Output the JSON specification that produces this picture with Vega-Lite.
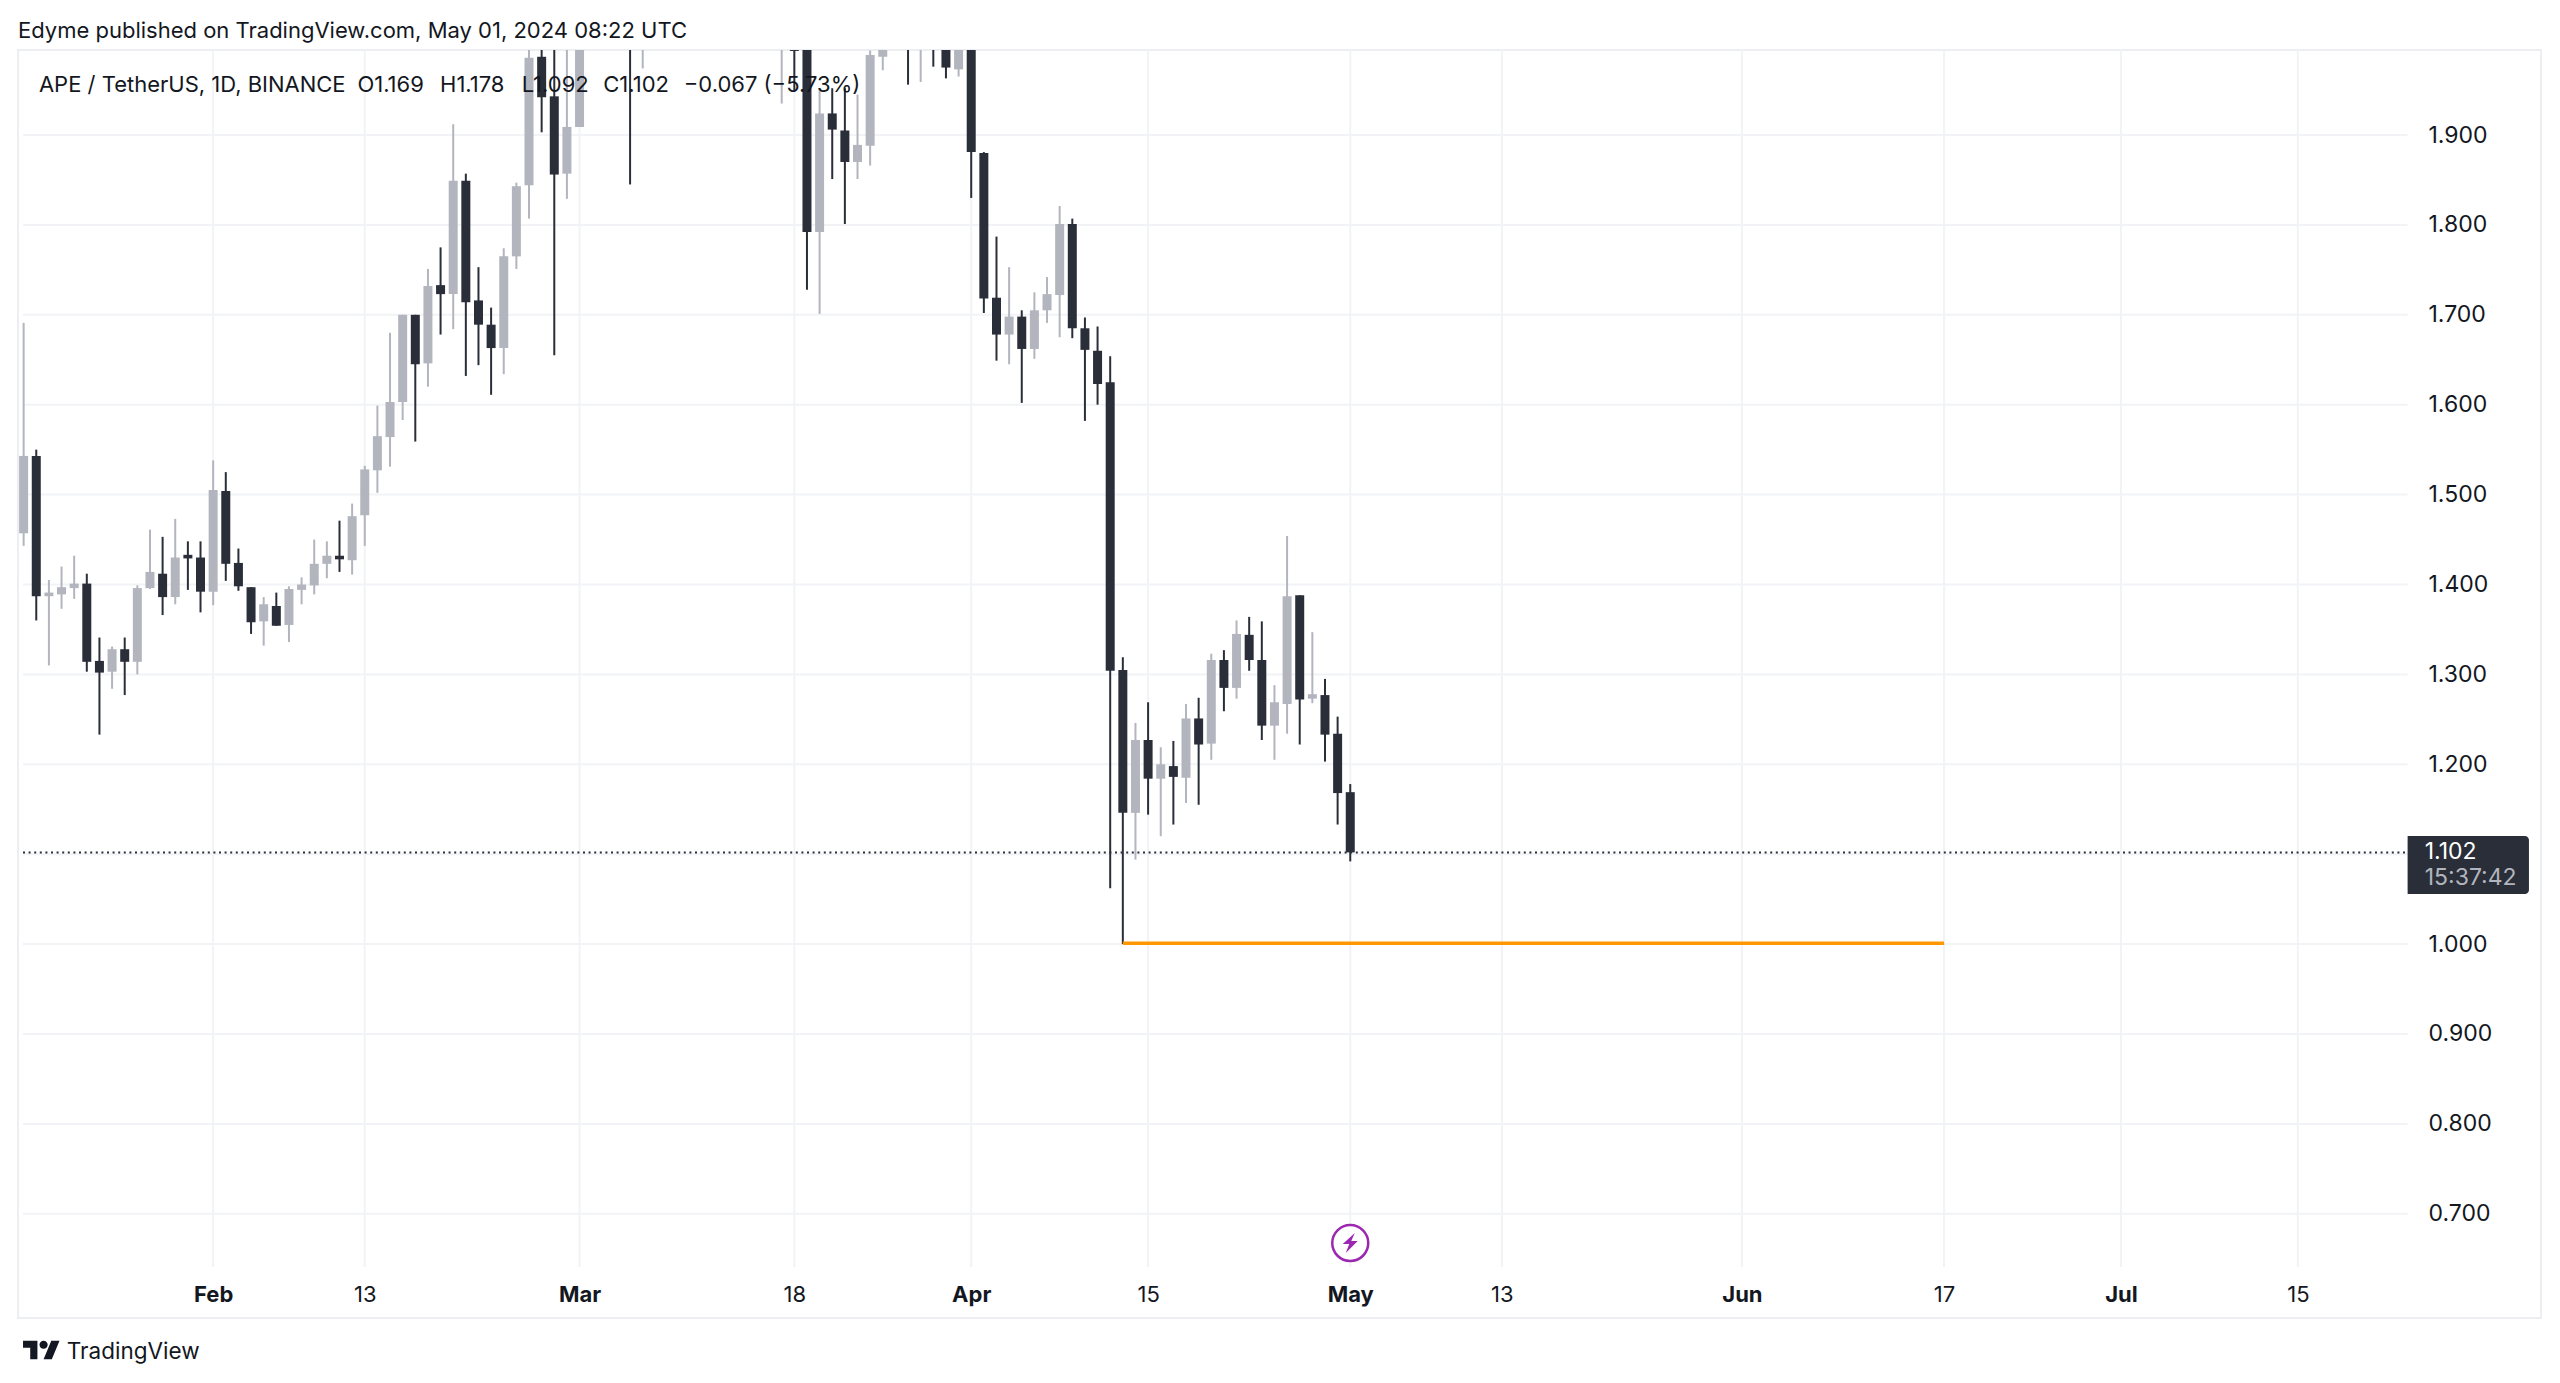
{
  "$schema": "https://vega.github.io/schema/vega-lite/v6.json",
  "width": 2523,
  "height": 1268,
  "autosize": "none",
  "padding": {"left": 18, "top": 50, "right": 19, "bottom": 65},
  "background": "#ffffff",
  "view": {"stroke": "#eceef2", "strokeWidth": 2},
  "title": {
    "text": "Edyme published on TradingView.com, May 01, 2024 08:22 UTC",
    "anchor": "start",
    "frame": "group",
    "font": "Inter",
    "fontSize": 22,
    "fontWeight": "normal",
    "color": "#131722",
    "offset": 6
  },
  "datasets": {
    "candles": [
      {"date": "2024-01-17", "open": 1.457, "high": 1.691, "low": 1.443, "close": 1.543},
      {"date": "2024-01-18", "open": 1.543, "high": 1.550, "low": 1.360, "close": 1.387},
      {"date": "2024-01-19", "open": 1.387, "high": 1.405, "low": 1.310, "close": 1.391},
      {"date": "2024-01-20", "open": 1.389, "high": 1.420, "low": 1.373, "close": 1.397},
      {"date": "2024-01-21", "open": 1.396, "high": 1.432, "low": 1.384, "close": 1.401},
      {"date": "2024-01-22", "open": 1.401, "high": 1.412, "low": 1.303, "close": 1.314},
      {"date": "2024-01-23", "open": 1.315, "high": 1.341, "low": 1.233, "close": 1.302},
      {"date": "2024-01-24", "open": 1.303, "high": 1.331, "low": 1.284, "close": 1.328},
      {"date": "2024-01-25", "open": 1.328, "high": 1.341, "low": 1.277, "close": 1.314},
      {"date": "2024-01-26", "open": 1.314, "high": 1.399, "low": 1.300, "close": 1.396},
      {"date": "2024-01-27", "open": 1.396, "high": 1.461, "low": 1.395, "close": 1.414},
      {"date": "2024-01-28", "open": 1.412, "high": 1.453, "low": 1.366, "close": 1.386},
      {"date": "2024-01-29", "open": 1.386, "high": 1.473, "low": 1.378, "close": 1.430},
      {"date": "2024-01-30", "open": 1.433, "high": 1.448, "low": 1.394, "close": 1.429},
      {"date": "2024-01-31", "open": 1.430, "high": 1.448, "low": 1.369, "close": 1.392},
      {"date": "2024-02-01", "open": 1.392, "high": 1.538, "low": 1.377, "close": 1.505},
      {"date": "2024-02-02", "open": 1.504, "high": 1.525, "low": 1.404, "close": 1.423},
      {"date": "2024-02-03", "open": 1.424, "high": 1.440, "low": 1.393, "close": 1.398},
      {"date": "2024-02-04", "open": 1.397, "high": 1.397, "low": 1.345, "close": 1.358},
      {"date": "2024-02-05", "open": 1.359, "high": 1.386, "low": 1.332, "close": 1.378},
      {"date": "2024-02-06", "open": 1.376, "high": 1.391, "low": 1.354, "close": 1.354},
      {"date": "2024-02-07", "open": 1.355, "high": 1.398, "low": 1.336, "close": 1.395},
      {"date": "2024-02-08", "open": 1.394, "high": 1.408, "low": 1.378, "close": 1.400},
      {"date": "2024-02-09", "open": 1.399, "high": 1.450, "low": 1.389, "close": 1.423},
      {"date": "2024-02-10", "open": 1.423, "high": 1.448, "low": 1.407, "close": 1.432},
      {"date": "2024-02-11", "open": 1.432, "high": 1.471, "low": 1.414, "close": 1.428},
      {"date": "2024-02-12", "open": 1.427, "high": 1.490, "low": 1.411, "close": 1.476},
      {"date": "2024-02-13", "open": 1.477, "high": 1.532, "low": 1.443, "close": 1.528},
      {"date": "2024-02-14", "open": 1.527, "high": 1.599, "low": 1.502, "close": 1.565},
      {"date": "2024-02-15", "open": 1.564, "high": 1.680, "low": 1.531, "close": 1.603},
      {"date": "2024-02-16", "open": 1.603, "high": 1.700, "low": 1.583, "close": 1.700},
      {"date": "2024-02-17", "open": 1.700, "high": 1.700, "low": 1.559, "close": 1.645},
      {"date": "2024-02-18", "open": 1.646, "high": 1.751, "low": 1.620, "close": 1.732},
      {"date": "2024-02-19", "open": 1.733, "high": 1.775, "low": 1.678, "close": 1.723},
      {"date": "2024-02-20", "open": 1.723, "high": 1.912, "low": 1.684, "close": 1.849},
      {"date": "2024-02-21", "open": 1.849, "high": 1.857, "low": 1.632, "close": 1.714},
      {"date": "2024-02-22", "open": 1.716, "high": 1.753, "low": 1.644, "close": 1.689},
      {"date": "2024-02-23", "open": 1.689, "high": 1.708, "low": 1.611, "close": 1.663},
      {"date": "2024-02-24", "open": 1.663, "high": 1.774, "low": 1.634, "close": 1.765},
      {"date": "2024-02-25", "open": 1.765, "high": 1.847, "low": 1.751, "close": 1.843},
      {"date": "2024-02-26", "open": 1.844, "high": 2.030, "low": 1.807, "close": 1.986},
      {"date": "2024-02-27", "open": 1.987, "high": 2.030, "low": 1.903, "close": 1.942},
      {"date": "2024-02-28", "open": 1.943, "high": 2.040, "low": 1.655, "close": 1.856},
      {"date": "2024-02-29", "open": 1.857, "high": 2.020, "low": 1.829, "close": 1.909},
      {"date": "2024-03-01", "open": 1.909, "high": 2.100, "low": 1.909, "close": 2.040},
      {"date": "2024-03-05", "open": 2.060, "high": 2.070, "low": 1.845, "close": 2.020},
      {"date": "2024-03-06", "open": 2.040, "high": 2.090, "low": 1.974, "close": 2.080},
      {"date": "2024-03-17", "open": 2.010, "high": 2.060, "low": 1.935, "close": 2.040},
      {"date": "2024-03-18", "open": 2.030, "high": 2.050, "low": 1.950, "close": 1.9935},
      {"date": "2024-03-19", "open": 2.030, "high": 2.050, "low": 1.728, "close": 1.792},
      {"date": "2024-03-20", "open": 1.792, "high": 1.952, "low": 1.701, "close": 1.924},
      {"date": "2024-03-21", "open": 1.924, "high": 1.952, "low": 1.851, "close": 1.906},
      {"date": "2024-03-22", "open": 1.905, "high": 1.952, "low": 1.801, "close": 1.870},
      {"date": "2024-03-23", "open": 1.870, "high": 1.945, "low": 1.851, "close": 1.889},
      {"date": "2024-03-24", "open": 1.888, "high": 1.994, "low": 1.866, "close": 1.989},
      {"date": "2024-03-25", "open": 1.987, "high": 2.020, "low": 1.972, "close": 2.000},
      {"date": "2024-03-27", "open": 2.060, "high": 2.070, "low": 1.956, "close": 2.020},
      {"date": "2024-03-28", "open": 2.020, "high": 2.060, "low": 1.959, "close": 2.050},
      {"date": "2024-03-29", "open": 2.050, "high": 2.060, "low": 1.976, "close": 2.010},
      {"date": "2024-03-30", "open": 2.030, "high": 2.040, "low": 1.963, "close": 1.975},
      {"date": "2024-03-31", "open": 1.973, "high": 2.040, "low": 1.965, "close": 2.030},
      {"date": "2024-04-01", "open": 2.020, "high": 2.030, "low": 1.830, "close": 1.881},
      {"date": "2024-04-02", "open": 1.880, "high": 1.881, "low": 1.702, "close": 1.718},
      {"date": "2024-04-03", "open": 1.719, "high": 1.787, "low": 1.649, "close": 1.678},
      {"date": "2024-04-04", "open": 1.678, "high": 1.753, "low": 1.645, "close": 1.698},
      {"date": "2024-04-05", "open": 1.698, "high": 1.705, "low": 1.602, "close": 1.662},
      {"date": "2024-04-06", "open": 1.662, "high": 1.725, "low": 1.651, "close": 1.705},
      {"date": "2024-04-07", "open": 1.705, "high": 1.742, "low": 1.691, "close": 1.723},
      {"date": "2024-04-08", "open": 1.722, "high": 1.821, "low": 1.675, "close": 1.801},
      {"date": "2024-04-09", "open": 1.801, "high": 1.807, "low": 1.674, "close": 1.685},
      {"date": "2024-04-10", "open": 1.685, "high": 1.697, "low": 1.582, "close": 1.661},
      {"date": "2024-04-11", "open": 1.660, "high": 1.687, "low": 1.600, "close": 1.623},
      {"date": "2024-04-12", "open": 1.625, "high": 1.654, "low": 1.062, "close": 1.304},
      {"date": "2024-04-13", "open": 1.305, "high": 1.319, "low": 1.000, "close": 1.146},
      {"date": "2024-04-14", "open": 1.146, "high": 1.246, "low": 1.094, "close": 1.227},
      {"date": "2024-04-15", "open": 1.227, "high": 1.269, "low": 1.144, "close": 1.184},
      {"date": "2024-04-16", "open": 1.184, "high": 1.219, "low": 1.120, "close": 1.200},
      {"date": "2024-04-17", "open": 1.198, "high": 1.226, "low": 1.133, "close": 1.186},
      {"date": "2024-04-18", "open": 1.185, "high": 1.267, "low": 1.157, "close": 1.251},
      {"date": "2024-04-19", "open": 1.251, "high": 1.274, "low": 1.155, "close": 1.222},
      {"date": "2024-04-20", "open": 1.223, "high": 1.323, "low": 1.205, "close": 1.316},
      {"date": "2024-04-21", "open": 1.316, "high": 1.327, "low": 1.259, "close": 1.285},
      {"date": "2024-04-22", "open": 1.285, "high": 1.360, "low": 1.273, "close": 1.345},
      {"date": "2024-04-23", "open": 1.344, "high": 1.364, "low": 1.304, "close": 1.316},
      {"date": "2024-04-24", "open": 1.316, "high": 1.359, "low": 1.227, "close": 1.243},
      {"date": "2024-04-25", "open": 1.243, "high": 1.288, "low": 1.205, "close": 1.269},
      {"date": "2024-04-26", "open": 1.267, "high": 1.454, "low": 1.234, "close": 1.387},
      {"date": "2024-04-27", "open": 1.388, "high": 1.388, "low": 1.222, "close": 1.272},
      {"date": "2024-04-28", "open": 1.273, "high": 1.347, "low": 1.268, "close": 1.278},
      {"date": "2024-04-29", "open": 1.277, "high": 1.295, "low": 1.203, "close": 1.233},
      {"date": "2024-04-30", "open": 1.234, "high": 1.253, "low": 1.133, "close": 1.168},
      {"date": "2024-05-01", "open": 1.169, "high": 1.178, "low": 1.092, "close": 1.102}
    ],
    "hgrid": [
      {"price": 0.7, "date": "2024-01-16T22:48:00Z", "date2": "2024-07-23T16:30:00Z"},
      {"price": 0.8, "date": "2024-01-16T22:48:00Z", "date2": "2024-07-23T16:30:00Z"},
      {"price": 0.9, "date": "2024-01-16T22:48:00Z", "date2": "2024-07-23T16:30:00Z"},
      {"price": 1.0, "date": "2024-01-16T22:48:00Z", "date2": "2024-07-23T16:30:00Z"},
      {"price": 1.1, "date": "2024-01-16T22:48:00Z", "date2": "2024-07-23T16:30:00Z"},
      {"price": 1.2, "date": "2024-01-16T22:48:00Z", "date2": "2024-07-23T16:30:00Z"},
      {"price": 1.3, "date": "2024-01-16T22:48:00Z", "date2": "2024-07-23T16:30:00Z"},
      {"price": 1.4, "date": "2024-01-16T22:48:00Z", "date2": "2024-07-23T16:30:00Z"},
      {"price": 1.5, "date": "2024-01-16T22:48:00Z", "date2": "2024-07-23T16:30:00Z"},
      {"price": 1.6, "date": "2024-01-16T22:48:00Z", "date2": "2024-07-23T16:30:00Z"},
      {"price": 1.7, "date": "2024-01-16T22:48:00Z", "date2": "2024-07-23T16:30:00Z"},
      {"price": 1.8, "date": "2024-01-16T22:48:00Z", "date2": "2024-07-23T16:30:00Z"},
      {"price": 1.9, "date": "2024-01-16T22:48:00Z", "date2": "2024-07-23T16:30:00Z"}
    ],
    "vgrid": [
      {"date": "2024-02-01", "low": 0.6408, "high": 1.99455},
      {"date": "2024-02-13", "low": 0.6408, "high": 1.99455},
      {"date": "2024-03-01", "low": 0.6408, "high": 1.99455},
      {"date": "2024-03-18", "low": 0.6408, "high": 1.99455},
      {"date": "2024-04-01", "low": 0.6408, "high": 1.99455},
      {"date": "2024-04-15", "low": 0.6408, "high": 1.99455},
      {"date": "2024-05-01", "low": 0.6408, "high": 1.99455},
      {"date": "2024-05-13", "low": 0.6408, "high": 1.99455},
      {"date": "2024-06-01", "low": 0.6408, "high": 1.99455},
      {"date": "2024-06-17", "low": 0.6408, "high": 1.99455},
      {"date": "2024-07-01", "low": 0.6408, "high": 1.99455},
      {"date": "2024-07-15", "low": 0.6408, "high": 1.99455}
    ],
    "legend": [
      {"date": "2024-01-18T05:00:00Z", "price": 1.956, "label": "APE / TetherUS, 1D, BINANCE"},
      {"date": "2024-02-12T10:00:00Z", "price": 1.956, "label": "O1.169"},
      {"date": "2024-02-18T23:00:00Z", "price": 1.956, "label": "H1.178"},
      {"date": "2024-02-25T10:00:00Z", "price": 1.956, "label": "L1.092"},
      {"date": "2024-03-02T21:00:00Z", "price": 1.956, "label": "C1.102"},
      {"date": "2024-03-09T06:00:00Z", "price": 1.956, "label": "−0.067 (−5.73%)"}
    ]
  },
  "encoding": {
    "x": {
      "field": "date",
      "type": "temporal",
      "scale": {"type": "utc", "nice": false, "domain": ["2024-01-16T22:48:00Z", "2024-08-02T20:24:00Z"]},
      "axis": {
        "title": null,
        "grid": false,
        "domain": false,
        "ticks": false,
        "labelFont": "Inter",
        "labelFontSize": 22,
        "labelColor": "#131722",
        "labelBaseline": "middle",
        "labelPadding": -24,
        "labelOverlap": false,
        "labelFlush": false,
        "values": ["2024-02-01", "2024-02-13", "2024-03-01", "2024-03-18", "2024-04-01", "2024-04-15", "2024-05-01", "2024-05-13", "2024-06-01", "2024-06-17", "2024-07-01", "2024-07-15"],
        "labelExpr": "utcdate(datum.value) == 1 ? utcFormat(datum.value, '%b') : utcFormat(datum.value, '%-d')",
        "labelFontWeight": {"condition": {"test": "utcdate(datum.value) == 1", "value": "bold"}, "value": "normal"}
      }
    }
  },
  "layer": [
    {
      "data": {"name": "hgrid"},
      "mark": {"type": "rule", "color": "#f2f3f6", "strokeWidth": 2},
      "encoding": {
        "x2": {"field": "date2"},
        "y": {
          "field": "price",
          "type": "quantitative",
          "scale": {"domain": [0.58409, 1.99455], "zero": false, "nice": false},
          "axis": {
            "title": null,
            "orient": "right",
            "grid": false,
            "domain": false,
            "ticks": false,
            "format": ".3f",
            "values": [0.7, 0.8, 0.9, 1.0, 1.2, 1.3, 1.4, 1.5, 1.6, 1.7, 1.8, 1.9],
            "labelFont": "Inter",
            "labelFontSize": 23,
            "labelColor": "#131722",
            "labelAlign": "left",
            "labelBaseline": "middle",
            "labelPadding": -113
          }
        }
      }
    },
    {
      "data": {"name": "vgrid"},
      "mark": {"type": "rule", "color": "#f2f3f6", "strokeWidth": 2},
      "encoding": {
        "y": {"field": "low", "type": "quantitative"},
        "y2": {"field": "high"}
      }
    },
    {
      "data": {"values": [{"date": "2024-01-16T22:48:00Z", "date2": "2024-07-23T16:30:00Z", "price": 1.102}]},
      "mark": {"type": "rule", "color": "#2a2e39", "strokeWidth": 2, "strokeDash": [2, 3.6]},
      "encoding": {
        "x2": {"field": "date2"},
        "y": {"field": "price", "type": "quantitative"}
      }
    },
    {
      "data": {"name": "candles"},
      "mark": {"type": "rule", "strokeWidth": 2, "clip": true},
      "encoding": {
        "y": {"field": "low", "type": "quantitative"},
        "y2": {"field": "high"},
        "color": {"condition": {"test": "datum.close > datum.open", "value": "#b2b5be"}, "value": "#2a2e39"}
      }
    },
    {
      "data": {"name": "candles"},
      "mark": {"type": "bar", "size": 9, "clip": true},
      "encoding": {
        "y": {"field": "open", "type": "quantitative"},
        "y2": {"field": "close"},
        "color": {"condition": {"test": "datum.close > datum.open", "value": "#b2b5be"}, "value": "#2a2e39"}
      }
    },
    {
      "data": {"values": [{"date": "2024-04-13", "date2": "2024-06-17", "price": 1.001}]},
      "mark": {"type": "rule", "color": "#ff9800", "strokeWidth": 3.5},
      "encoding": {
        "x2": {"field": "date2"},
        "y": {"field": "price", "type": "quantitative"}
      }
    },
    {
      "data": {"name": "legend"},
      "mark": {"type": "text", "align": "left", "baseline": "middle", "font": "Inter", "fontSize": 22, "color": "#131722"},
      "encoding": {
        "y": {"field": "price", "type": "quantitative"},
        "text": {"field": "label"}
      }
    },
    {
      "data": {"values": [{"date": "2024-07-23T16:30:00Z", "date2": "2024-08-02T07:00:00Z", "price": 1.1202, "price2": 1.0557}]},
      "mark": {"type": "bar", "color": "#2a2e39", "cornerRadiusTopRight": 4, "cornerRadiusBottomRight": 4},
      "encoding": {
        "x2": {"field": "date2"},
        "y": {"field": "price", "type": "quantitative"},
        "y2": {"field": "price2"}
      }
    },
    {
      "data": {"values": [{"date": "2024-07-25T01:00:00Z", "price": 1.102, "label": "1.102"}]},
      "mark": {"type": "text", "align": "left", "baseline": "middle", "font": "Inter", "fontSize": 23, "color": "#ffffff"},
      "encoding": {
        "y": {"field": "price", "type": "quantitative"},
        "text": {"field": "label"}
      }
    },
    {
      "data": {"values": [{"date": "2024-07-25T01:00:00Z", "price": 1.0736, "label": "15:37:42"}]},
      "mark": {"type": "text", "align": "left", "baseline": "middle", "font": "Inter", "fontSize": 23, "color": "#b2b5be"},
      "encoding": {
        "y": {"field": "price", "type": "quantitative"},
        "text": {"field": "label"}
      }
    },
    {
      "data": {"values": [{"date": "2024-05-01", "price": 0.6675}]},
      "mark": {"type": "point", "shape": "circle", "size": 1296, "fill": "#ffffff", "stroke": "#9c27b0", "strokeWidth": 2.5, "opacity": 1},
      "encoding": {"y": {"field": "price", "type": "quantitative"}}
    },
    {
      "data": {"values": [{"date": "2024-05-01", "price": 0.6675}]},
      "mark": {"type": "point", "shape": "M.45 -1L-.75 .1H-.1L-.45 1L.75 -.2H.1Z", "size": 400, "filled": true, "color": "#9c27b0", "opacity": 1},
      "encoding": {"y": {"field": "price", "type": "quantitative"}}
    },
    {
      "data": {"values": [{"date": "2024-01-18T10:00:00Z", "price": 0.5486}]},
      "mark": {"type": "point", "shape": "M-.222 .5H-.611V-.111H-1V-.5H-.222ZM.556 .5H.111L.528 -.5H.972ZM-.111 -.278a.222 .222 0 1 0 .444 0a.222 .222 0 1 0 -.444 0Z", "size": 1369, "filled": true, "color": "#131722", "opacity": 1},
      "encoding": {"y": {"field": "price", "type": "quantitative"}}
    },
    {
      "data": {"values": [{"date": "2024-01-20T10:00:00Z", "price": 0.5465, "label": "TradingView"}]},
      "mark": {"type": "text", "align": "left", "baseline": "middle", "font": "Inter", "fontSize": 22.5, "color": "#131722"},
      "encoding": {
        "y": {"field": "price", "type": "quantitative"},
        "text": {"field": "label"}
      }
    }
  ]
}
